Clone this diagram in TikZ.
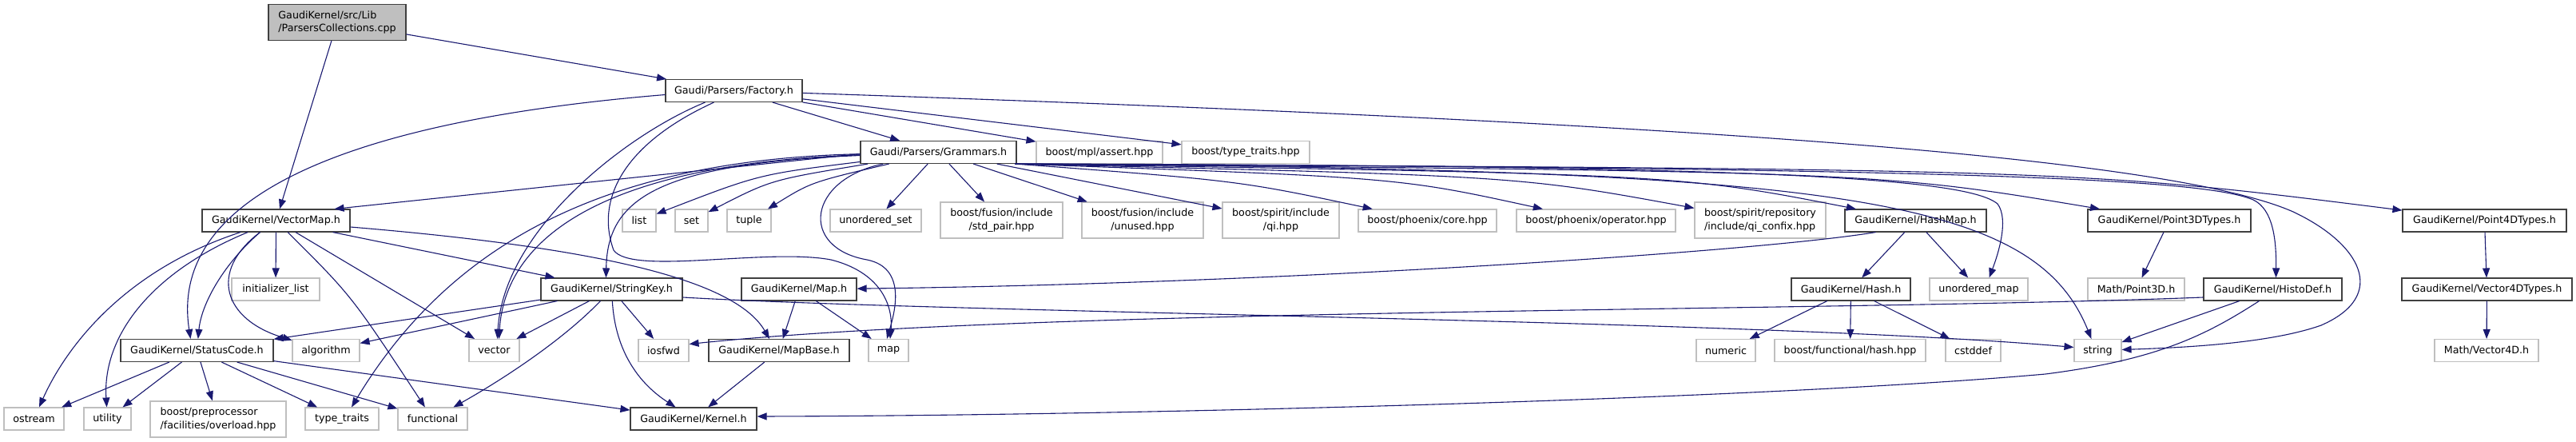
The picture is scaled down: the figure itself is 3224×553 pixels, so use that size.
\documentclass[tikz,border=0pt]{standalone}
\usepackage{fontspec}
\setmainfont{DejaVu Sans}
\usetikzlibrary{arrows.meta,calc}
\definecolor{edgec}{HTML}{191970}
\definecolor{darkb}{HTML}{404040}
\definecolor{lightb}{HTML}{BFBFBF}
\begin{document}
\begin{tikzpicture}[x=1pt,y=-1pt, font=\fontsize{12.7}{16.5}\selectfont,
  dk/.style={draw=darkb, line width=1.1pt, fill=white, inner sep=0pt, minimum height=28pt},
  lt/.style={dk, draw=lightb},
  two/.style={minimum height=45pt},
  conn/.style={draw=edgec, line width=1.1pt, -{Triangle[length=12pt,width=9pt]}}]
\fill[white] (0,0) rectangle (3224,553);
\useasboundingbox (0,0) rectangle (3224,553);
% rank 0-1
\node[dk, fill=lightb, two, minimum width=172pt, align=left] (root) at (422,28) {GaudiKernel/src/Lib\\/ParsersCollections.cpp};
\node[dk, minimum width=171pt] (fac) at (918.5,113.5) {Gaudi/Parsers/Factory.h};
% rank 2
\node[dk, minimum width=195pt] (gra) at (1174.5,190.5) {Gaudi/Parsers/Grammars.h};
\node[lt, minimum width=158pt] (mpl) at (1376,190.5) {boost/mpl/assert.hpp};
\node[lt, minimum width=160pt] (btt) at (1559,190.5) {boost/type\_traits.hpp};
% rank 3
\node[dk, minimum width=185pt] (vmap) at (345.5,276) {GaudiKernel/VectorMap.h};
\node[lt, minimum width=42pt] (lst) at (800,276) {list};
\node[lt, minimum width=41pt] (nset) at (865.5,276) {set};
\node[lt, minimum width=55pt] (tup) at (937.5,276) {tuple};
\node[lt, minimum width=114pt] (uset) at (1096,276) {unordered\_set};
\node[lt, two, minimum width=153pt, align=center] (spair) at (1253.5,275.5) {boost/fusion/include\\/std\_pair.hpp};
\node[lt, two, minimum width=152pt, align=center] (unused) at (1430,275.5) {boost/fusion/include\\/unused.hpp};
\node[lt, two, minimum width=146pt, align=center] (qi) at (1603,275.5) {boost/spirit/include\\/qi.hpp};
\node[lt, minimum width=173pt] (pcore) at (1786.5,276) {boost/phoenix/core.hpp};
\node[lt, minimum width=199pt] (pop) at (1997.5,276) {boost/phoenix/operator.hpp};
\node[lt, two, minimum width=164pt, align=left] (confix) at (2203,275.5) {boost/spirit/repository\\/include/qi\_confix.hpp};
\node[dk, minimum width=177pt] (hmap) at (2397.5,276) {GaudiKernel/HashMap.h};
\node[dk, minimum width=204pt] (p3d) at (2715,276) {GaudiKernel/Point3DTypes.h};
\node[dk, minimum width=205pt] (p4d) at (3109.5,276) {GaudiKernel/Point4DTypes.h};
% rank 4
\node[lt, minimum width=110pt] (init) at (345,362) {initializer\_list};
\node[dk, minimum width=177pt] (skey) at (765.5,362) {GaudiKernel/StringKey.h};
\node[dk, minimum width=144pt] (maph) at (1000,362) {GaudiKernel/Map.h};
\node[dk, minimum width=149pt] (hash) at (2316.5,362) {GaudiKernel/Hash.h};
\node[lt, minimum width=123pt] (umap) at (2476.5,362) {unordered\_map};
\node[lt, minimum width=121pt] (mp3) at (2673.5,362) {Math/Point3D.h};
\node[dk, minimum width=173pt] (histo) at (2844.5,362) {GaudiKernel/HistoDef.h};
\node[dk, minimum width=213pt] (v4dt) at (3112.5,362) {GaudiKernel/Vector4DTypes.h};
% rank 5
\node[dk, minimum width=191pt] (sc) at (246.5,438.5) {GaudiKernel/StatusCode.h};
\node[lt, minimum width=84pt] (alg) at (408,438.5) {algorithm};
\node[lt, minimum width=63pt] (vec) at (618.5,438.5) {vector};
\node[lt, minimum width=63pt] (iosfwd) at (830.5,438.5) {iosfwd};
\node[dk, minimum width=176pt] (mapbase) at (975,438.5) {GaudiKernel/MapBase.h};
\node[lt, minimum width=50pt] (mapstd) at (1112,438.5) {map};
\node[lt, minimum width=74pt] (numeric) at (2160,438.5) {numeric};
\node[lt, minimum width=189pt] (fhash) at (2315.5,438.5) {boost/functional/hash.hpp};
\node[lt, minimum width=69pt] (cstddef) at (2469.5,438.5) {cstddef};
\node[lt, minimum width=59pt] (str) at (2625.5,438.5) {string};
\node[lt, minimum width=130pt] (mv4d) at (3112,438.5) {Math/Vector4D.h};
% rank 6
\node[lt, minimum width=75pt] (ostream) at (42.5,524) {ostream};
\node[lt, minimum width=59pt] (util) at (134.5,524) {utility};
\node[lt, two, minimum width=170pt, align=left] (ovl) at (273,524.5) {boost/preprocessor\\/facilities/overload.hpp};
\node[lt, minimum width=92pt] (tt) at (428,524) {type\_traits};
\node[lt, minimum width=87pt] (func) at (541.5,524) {functional};
\node[dk, minimum width=158pt] (kernel) at (868,524) {GaudiKernel/Kernel.h};

% ---- edges ----
\draw[conn] (root) -- (fac);
\draw[conn] (root) -- (vmap);
% Factory
\draw[conn] (fac) -- (gra);
\draw[conn] (fac) -- (mpl);
\draw[conn] (fac) -- (btt);
\draw[conn] (fac) .. controls (2000,150) and (2700,190) .. (2870,265) .. controls (2955,305) and (2990,370) .. (2905,407) .. controls (2840,430) and (2730,435) .. (str);
\draw[conn] ($(fac.west)+(0,5)$) .. controls (450,150) and (210,240) .. ($(sc.north)+(-8,0)$);
\draw[conn] ($(fac.south)+(-36,0)$) .. controls (780,170) and (630,290) .. ($(vec.north)+(4,0)$);
\draw[conn] ($(fac.south)+(-25,0)$) .. controls (780,180) and (745,250) .. (768,313) .. controls (790,345) and (960,310) .. (1040,325) .. controls (1100,340) and (1118,380) .. ($(mapstd.north)+(2,0)$);
% Grammars
\draw[conn] ($(gra.west)+(0,2)$) -- ($(vmap.north east)+(-20,0)$);
\draw[conn] (gra) .. controls (950,218) .. (lst);
\draw[conn] (gra) .. controls (965,225) .. (nset);
\draw[conn] (gra) .. controls (1015,228) .. (tup);
\draw[conn] (gra) -- (uset);
\draw[conn] (gra) -- (spair);
\draw[conn] (gra) -- (unused);
\draw[conn] (gra) -- (qi);
\draw[conn] ($(gra.south east)+(-2,0)$) .. controls (1550,226) .. (pcore);
\draw[conn] ($(gra.south east)+(-2,0)$) .. controls (1750,222) .. (pop);
\draw[conn] ($(gra.south east)+(-2,0)$) .. controls (1900,220) .. (confix);
\draw[conn] ($(gra.south east)+(-2,0)$) .. controls (2100,218) .. (hmap);
\draw[conn] ($(gra.south east)+(-2,0)$) .. controls (2350,215) .. (p3d);
\draw[conn] ($(gra.south east)+(-2,0)$) .. controls (2600,212) .. (p4d);
\draw[conn] ($(gra.south east)+(-2,0)$) .. controls (2500,210) and (2760,225) .. (2820,250) .. controls (2845,262) and (2849,300) .. ($(histo.north)+(4,0)$);
\draw[conn] ($(gra.south east)+(-2,0)$) .. controls (2200,207) and (2460,222) .. (2500,255) .. controls (2515,275) and (2500,320) .. ($(umap.north)+(13,0)$);
\draw[conn] ($(gra.south east)+(-2,0)$) .. controls (2300,212) and (2545,245) .. ($(str.north)+(-8,0)$);
\draw[conn] (gra) .. controls (820,205) and (760,250) .. ($(skey.north)+(-7,0)$);
\draw[conn] (gra) .. controls (750,205) and (632,300) .. ($(vec.north)+(6,0)$);
\draw[conn] (gra) .. controls (750,200) and (560,310) .. ($(tt.north)+(12,0)$);
\draw[conn] (gra) .. controls (1010,225) and (1000,310) .. (1085,325) .. controls (1135,335) and (1120,390) .. ($(mapstd.north)+(-2,0)$);
% VectorMap
\draw[conn] (vmap) .. controls (150,340) and (80,440) .. (ostream);
\draw[conn] (vmap) .. controls (190,340) and (128,420) .. (util);
\draw[conn] ($(vmap.south)+(-20,0)$) .. controls (280,330) and (252,380) .. (sc);
\draw[conn] ($(vmap.south)+(-20,0)$) .. controls (260,340) and (280,400) .. (alg);
\draw[conn] (vmap) -- (init);
\draw[conn] (vmap) .. controls (440,370) .. (func);
\draw[conn] (vmap) -- (vec);
\draw[conn] (vmap) -- (skey);
\draw[conn] ($(vmap.east)+(0,8)$) .. controls (750,310) and (920,350) .. ($(mapbase.north)+(-12,0)$);
% StatusCode
\draw[conn] (sc) -- (ostream);
\draw[conn] (sc) -- (util);
\draw[conn] (sc) -- (ovl);
\draw[conn] (sc) -- (tt);
\draw[conn] (sc) -- (func);
\draw[conn] (sc) -- (kernel);
% StringKey
\draw[conn] (skey) -- (sc);
\draw[conn] (skey) -- (alg);
\draw[conn] (skey) -- (vec);
\draw[conn] (skey) -- (iosfwd);
\draw[conn] (skey) .. controls (700,430) and (620,480) .. (func);
\draw[conn] (skey) .. controls (770,440) and (800,480) .. (kernel);
\draw[conn] ($(skey.east)+(0,10)$) .. controls (1200,392) and (2200,400) .. ($(str.west)+(0,-4)$);
% Map / MapBase
\draw[conn] (maph) -- (mapbase);
\draw[conn] (maph) -- (mapstd);
\draw[conn] (mapbase) -- (kernel);
% HashMap / Hash
\draw[conn] ($(hmap.south)+(-50,0)$) .. controls (2200,315) and (1600,355) .. (maph);
\draw[conn] (hmap) -- (hash);
\draw[conn] (hmap) -- (umap);
\draw[conn] (hash) -- (numeric);
\draw[conn] (hash) -- (fhash);
\draw[conn] (hash) -- (cstddef);
% HistoDef
\draw[conn] (histo) -- (str);
\draw[conn] ($(histo.west)+(0,10)$) .. controls (2300,390) and (1300,385) .. ($(iosfwd.east)+(0,-8)$);
\draw[conn] ($(histo.south)+(-17,0)$) .. controls (2760,420) and (2700,450) .. (2560,468) .. controls (2200,500) and (1400,520) .. ($(kernel.east)+(0,-3)$);
% Points
\draw[conn] (p3d) -- (mp3);
\draw[conn] (p4d) -- (v4dt);
\draw[conn] (v4dt) -- (mv4d);
\end{tikzpicture}
\end{document}
